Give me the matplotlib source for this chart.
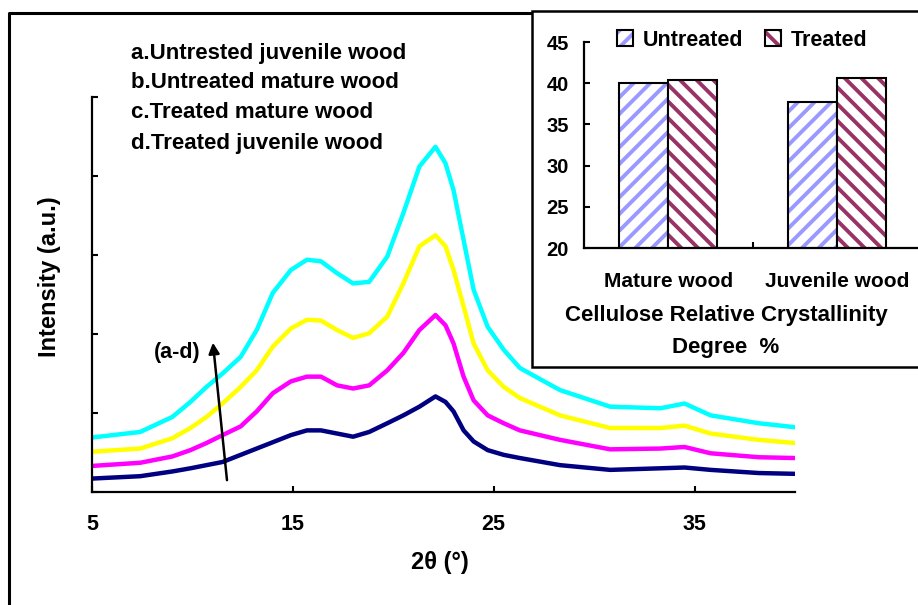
import matplotlib
matplotlib.use("Agg")
import matplotlib.pyplot as plt
from matplotlib.patches import Patch, Rectangle
from matplotlib.lines import Line2D

plt.rcParams['font.family'] = ['Liberation Sans', 'DejaVu Sans']
plt.rcParams['font.weight'] = 'bold'
plt.rcParams['hatch.linewidth'] = 2.8

# XRD curves (2theta in degrees, intensity in tick units)
two_theta = [5, 7.4, 9.0, 9.9, 10.7, 11.5, 12.4, 13.2, 14.0, 14.9, 15.7, 16.4,
             17.2, 18.0, 18.8, 19.7, 20.5, 21.3, 22.1, 22.6, 23.0, 23.5, 24.0,
             24.7, 25.5, 26.3, 28.3, 30.8, 33.3, 34.5, 35.8, 38.2, 40]
int_a = [0.17, 0.20, 0.26, 0.30, 0.34, 0.38, 0.47, 0.55, 0.63, 0.72, 0.78, 0.78,
         0.74, 0.70, 0.76, 0.87, 0.97, 1.08, 1.21, 1.14, 1.02, 0.78, 0.64,
         0.53, 0.47, 0.43, 0.34, 0.28, 0.30, 0.31, 0.28, 0.24, 0.23]
int_b = [0.33, 0.37, 0.45, 0.53, 0.62, 0.72, 0.83, 1.02, 1.25, 1.40, 1.46, 1.46,
         1.35, 1.31, 1.35, 1.54, 1.76, 2.05, 2.24, 2.11, 1.88, 1.46, 1.16,
         0.97, 0.87, 0.78, 0.66, 0.54, 0.55, 0.57, 0.49, 0.44, 0.43]
int_c = [0.51, 0.55, 0.68, 0.81, 0.95, 1.12, 1.33, 1.54, 1.84, 2.07, 2.18, 2.17,
         2.05, 1.95, 2.01, 2.22, 2.64, 3.11, 3.25, 3.11, 2.81, 2.35, 1.88,
         1.54, 1.33, 1.19, 0.97, 0.81, 0.81, 0.84, 0.74, 0.66, 0.62]
int_d = [0.69, 0.76, 0.95, 1.14, 1.33, 1.50, 1.71, 2.05, 2.52, 2.81, 2.94, 2.92,
         2.77, 2.64, 2.66, 2.98, 3.53, 4.12, 4.37, 4.16, 3.82, 3.19, 2.56,
         2.09, 1.80, 1.57, 1.29, 1.08, 1.06, 1.12, 0.97, 0.87, 0.82]
curve_colors = ['#000080', '#ff00ff', '#ffff00', '#00ffff']
curve_names = ['a.Untrested juvenile wood', 'b.Untreated mature wood',
               'c.Treated mature wood', 'd.Treated juvenile wood']

# inset bar chart
groups = ['Mature wood', 'Juvenile wood']
untreated = [40.0, 37.7]
treated = [40.4, 40.6]

W, H = 918, 605
fig = plt.figure(figsize=(W / 100, H / 100), dpi=100)

ax = fig.add_axes([92 / W, 1 - 492 / H, 703 / W, 395 / H])
for y, c in zip([int_a, int_b, int_c, int_d], curve_colors):
    ax.plot(two_theta, y, color=c, lw=3.2, solid_joinstyle='round')
ax.set_xlim(5, 40)
ax.set_ylim(0, 5)
ax.set_xticks([5, 15, 25, 35])
ax.set_yticks([0, 1, 2, 3, 4, 5])
ax.set_yticklabels([])
ax.tick_params(direction='in', length=4, width=1.5, labelsize=15.5, pad=16)
for s in ['top', 'right']:
    ax.spines[s].set_visible(False)
for s in ['left', 'bottom']:
    ax.spines[s].set_linewidth(1.6)

ax.annotate('', xy=(11.02, 1.89), xytext=(11.72, 0.15),
            arrowprops=dict(arrowstyle='-|>', color='black', lw=1.8,
                            mutation_scale=16, shrinkA=0, shrinkB=0))
ax.text(9.23, 1.76, '(a-d)', ha='center', va='center', fontsize=15.5)

for i, txt in enumerate(curve_names):
    fig.text(131 / W, 1 - (53 + 30 * i) / H, txt, ha='left', va='center', fontsize=16)

fig.text(50 / W, 1 - 277 / H, 'Intensity (a.u.)', rotation=90, ha='center', va='center', fontsize=17)
fig.text(440 / W, 1 - 563 / H, '2θ (°)', ha='center', va='center', fontsize=17)

# outer frame (left and top edges visible)
fig.add_artist(Line2D([9 / W, 9 / W, 1.0], [0, 1 - 13 / H, 1 - 13 / H],
                      transform=fig.transFigure, color='black', lw=2.2))

# inset box
fig.add_artist(Rectangle((532 / W, 1 - 367 / H), 400 / W, 356 / H, transform=fig.transFigure,
                         facecolor='white', edgecolor='black', lw=1.8, zorder=2))

axi = fig.add_axes([584 / W, 1 - 248 / H, 337 / W, 206 / H], zorder=3)
axi.patch.set_alpha(0)
x = [0, 1]
w = 0.29
xu = [v - w / 2 for v in x]
xt = [v + w / 2 for v in x]
axi.bar(xu, untreated, w, color='white', edgecolor='#9999ff', hatch='//', lw=0)
axi.bar(xu, untreated, w, fill=False, edgecolor='black', lw=1.5)
axi.bar(xt, treated, w, color='white', edgecolor='#993366', hatch='\\\\', lw=0)
axi.bar(xt, treated, w, fill=False, edgecolor='black', lw=1.5)
axi.set_xlim(-0.5, 1.5)
axi.set_ylim(20, 45)
axi.set_yticks(range(20, 46, 5))
axi.set_xticks(x)
axi.set_xticklabels(groups)
axi.set_xticks([0.5], minor=True)
axi.tick_params(axis='x', which='major', length=0, pad=17, labelsize=15)
axi.tick_params(axis='x', which='minor', direction='in', length=4, width=1.5)
axi.tick_params(axis='y', direction='in', length=4, width=1.5, labelsize=14.5, pad=11)
for s in ['top', 'right']:
    axi.spines[s].set_visible(False)
for s in ['left', 'bottom']:
    axi.spines[s].set_linewidth(1.6)

h_u = (Patch(facecolor='white', edgecolor='#9999ff', hatch='//', lw=0),
       Patch(fill=False, edgecolor='black', lw=1.5))
h_t = (Patch(facecolor='white', edgecolor='#993366', hatch='\\\\', lw=0),
       Patch(fill=False, edgecolor='black', lw=1.5))
leg = fig.legend([h_u, h_t], ['Untreated', 'Treated'], loc='center', ncol=2,
                 bbox_to_anchor=(742 / W, 1 - 40 / H), frameon=False, fontsize=15.5,
                 handlelength=0.75, handleheight=0.75, handletextpad=0.45, columnspacing=1.0)
leg.set_zorder(4)

fig.text(726 / W, 1 - 315 / H, 'Cellulose Relative Crystallinity', ha='center', va='center',
         fontsize=16, zorder=4)
fig.text(726 / W, 1 - 347 / H, 'Degree  %', ha='center', va='center', fontsize=16, zorder=4)

fig.savefig('out.png', dpi=100)
